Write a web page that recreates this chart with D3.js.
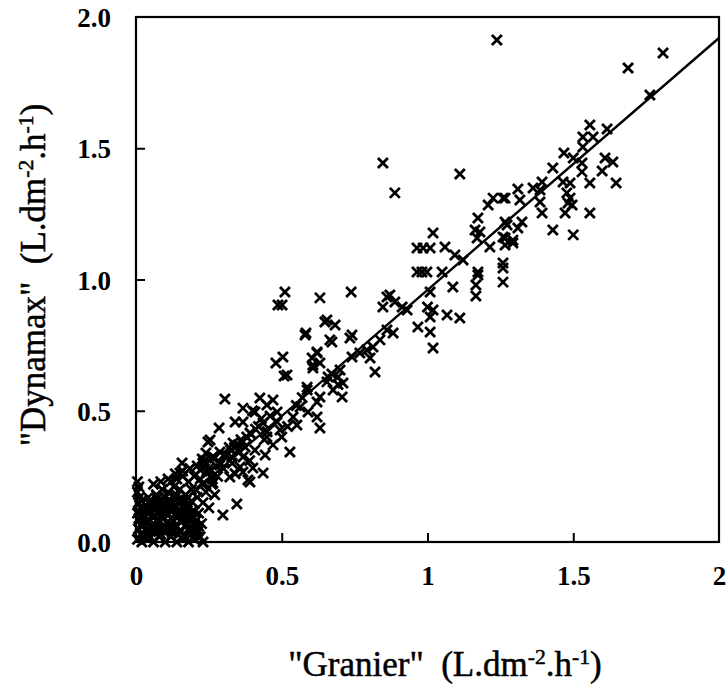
<!DOCTYPE html>
<html><head><meta charset="utf-8">
<script src="https://cdn.jsdelivr.net/npm/d3@7"></script>
<style>body{margin:0;background:#fff}svg{display:block}</style>
</head><body>
<svg id="c" width="728" height="686"></svg>
<script>
// Granier (x) vs Dynamax (y) sap flux density, L.dm-2.h-1
const granier = [
1.238,1.808,1.688,1.763,1.557,1.616,1.533,1.568,1.533,1.468,1.50,1.53,1.609,1.636,1.599,1.53,1.43,1.465,1.489,1.557,1.647,1.478,1.482,1.472,1.557,1.43,1.50,
1.393,1.386,1.362,1.31,1.266,1.317,1.386,1.489,1.496,1.393,1.324,1.273,1.31,1.259,1.293,
0.847,1.111,0.888,1.225,1.259,1.208,1.173,1.266,1.163,1.18,1.17,1.019,1.266,1.266,1.293,1.214,0.964,0.985,1.009,1.06,1.094,1.122,
0.964,0.981,0.998,1.05,1.173,1.259,1.259,1.259,1.173,1.166,1.166,1.087,1.009,0.871,
0.511,0.631,0.738,0.501,0.861,0.888,0.847,0.913,0.93,1.0,1.019,1.009,1.067,1.111,0.967,1.009,1.019,
0.683,0.741,0.734,0.655,0.58,0.665,0.861,0.882,0.837,0.813,0.792,0.768,0.741,0.803,0.621,0.604,0.607,0.631,0.70,0.693,0.82,0.518,0.504,0.655,0.587,0.71,
0.487,0.648,0.583,0.48,0.508,0.305,0.285,0.247,0.631,0.528,0.346,0.707,0.672,0.693,
0.672,0.621,0.607,0.659,0.676,0.631,0.587,0.621,0.425,0.47,0.449,0.367,0.408,0.484,0.563,0.59,0.539,0.621,0.552,
0.367,0.34,0.436,0.484,0.494,0.391,0.449,0.254,0.333,0.374,0.408,0.288,0.264,0.329,0.367,0.443,0.23,0.288,0.357,0.401,0.436,0.367,0.391,0.322,0.244,0.264,
0.158,0.151,0.22,0.298,0.384,0.227,0.24,0.263,0.233,0.243,
0.005,0.01,0.005,0.012,0.008,0.015,0.005,0.01,0.02,0.008,0.015,0.005,0.02,0.03,
0.04,0.05,0.06,0.07,0.08,0.09,0.1,0.11,0.12,0.13,0.14,0.15,0.16,0.17,0.18,0.19,0.2,0.21,0.22,0.23,
0.035,0.045,0.055,0.065,0.075,0.085,0.095,0.105,0.115,0.125,0.135,0.145,0.155,0.165,0.175,0.185,0.195,0.205,0.215,0.225,
0.04,0.06,0.08,0.1,0.12,0.14,0.16,0.18,0.2,0.03,0.05,0.07,0.09,0.11,0.13,0.15,0.17,0.19,0.21,0.23,0.25,0.24,0.26,0.22,0.2,0.18,0.16,0.14,0.12,0.27,0.28,0.3,0.25,0.23,0.27,0.31,0.33,0.35,0.38,
0.025,0.045,0.065,0.085,0.105,0.125,0.145,0.165,0.185,0.205,0.03,0.058,0.087,0.113,0.142,0.168,0.193,0.052,0.078,0.098,0.132,0.158,0.178,0.022,0.062,0.095,0.122,0.152,0.188,0.212,0.042,0.072,0.102,0.138,0.172,
0.32,0.36,0.41,0.44,0.29,0.34,0.39,0.45,0.47,0.52,0.55,0.43,0.4,0.5,0.57,
0.015,0.035,0.055,0.075,0.095,0.115,0.135,0.155,0.175,0.195,0.215,0.012,0.04,0.068,0.092,0.118,0.148,0.176,0.2,0.018,0.048,0.082,0.108,0.128,0.162,0.19,
0.06,0.085,0.11,0.135,0.16,0.185,0.21,0.235,0.255,0.275,0.3,0.325,0.35,0.205,0.228,0.262,0.285,0.31,0.338,0.365,0.395,0.42,0.46
];
const dynamax = [
1.912,1.863,1.806,1.703,1.589,1.573,1.543,1.543,1.505,1.482,1.463,1.444,1.463,1.448,1.413,1.41,1.425,1.371,1.368,1.368,1.368,1.33,1.291,1.253,1.253,1.189,1.17,
1.371,1.341,1.349,1.345,1.31,1.303,1.295,1.31,1.284,1.253,1.219,1.208,1.196,1.162,1.15,
1.444,1.402,1.33,1.31,1.31,1.284,1.234,1.219,1.189,1.181,1.158,1.177,1.158,1.131,1.139,1.124,1.12,1.12,1.12,1.124,1.093,1.074,
1.029,1.029,1.029,1.029,1.029,1.063,1.044,0.99,1.017,0.979,0.937,0.971,0.952,0.941,
0.952,0.93,0.952,0.903,0.933,0.914,0.895,0.895,0.884,0.895,0.884,0.857,0.865,0.853,0.819,0.8,0.739,
0.827,0.789,0.777,0.846,0.789,0.77,0.808,0.796,0.77,0.743,0.731,0.72,0.705,0.701,0.72,0.701,0.674,0.682,0.655,0.629,0.648,0.636,0.705,0.61,0.59,0.606,
0.903,0.838,0.796,0.682,0.632,0.545,0.434,0.381,0.434,0.343,0.145,0.552,0.64,0.6,
0.762,0.724,0.663,0.629,0.579,0.552,0.579,0.533,0.549,0.541,0.522,0.51,0.495,0.495,0.514,0.495,0.476,0.476,0.446,
0.457,0.457,0.453,0.457,0.427,0.415,0.4,0.389,0.377,0.362,0.35,0.343,0.324,0.324,0.324,0.331,0.301,0.293,0.286,0.282,0.263,0.267,0.229,0.248,0.263,0.225,
0.301,0.263,0.274,0.103,0.236,0.316,0.339,0.324,0.225,0.27,
0.23,0.21,0.19,0.17,0.15,0.13,0.11,0.09,0.07,0.05,0.03,0.01,0.0,0.02,
0.01,0.04,0.0,0.06,0.02,0.09,0.0,0.05,0.02,0.08,0.0,0.04,0.01,0.06,0.0,0.03,0.01,0.05,0.02,0.0,
0.08,0.11,0.13,0.1,0.14,0.12,0.15,0.11,0.16,0.13,0.17,0.12,0.15,0.11,0.14,0.09,0.12,0.08,0.11,0.07,
0.05,0.07,0.08,0.06,0.09,0.06,0.09,0.05,0.07,0.12,0.16,0.18,0.2,0.19,0.21,0.2,0.18,0.2,0.17,0.15,0.13,0.19,0.22,0.24,0.25,0.23,0.25,0.24,0.23,0.18,0.25,0.28,0.28,0.3,0.32,0.33,0.3,0.35,0.4,
0.03,0.025,0.035,0.03,0.04,0.035,0.03,0.025,0.04,0.03,0.1,0.095,0.1,0.105,0.1,0.095,0.1,0.14,0.135,0.13,0.14,0.135,0.13,0.06,0.045,0.04,0.05,0.045,0.055,0.04,0.17,0.165,0.17,0.18,0.16,
0.36,0.39,0.43,0.39,0.3,0.26,0.31,0.42,0.37,0.44,0.52,0.47,0.5,0.4,0.55,
0.065,0.07,0.06,0.075,0.065,0.07,0.06,0.075,0.065,0.07,0.06,0.115,0.12,0.125,0.115,0.12,0.11,0.12,0.115,0.155,0.15,0.16,0.155,0.15,0.16,0.155,
0.22,0.23,0.24,0.26,0.27,0.28,0.29,0.31,0.27,0.29,0.33,0.35,0.37,0.2,0.22,0.24,0.3,0.33,0.36,0.38,0.41,0.44,0.48
];
const xTicks = [0, 0.5, 1, 1.5, 2];
const xTickLabels = ["0", "0.5", "1", "1.5", "2"];
const yTicks = [0, 0.5, 1.0, 1.5, 2.0];
const yTickLabels = ["0.0", "0.5", "1.0", "1.5", "2.0"];
const fitSlope = 0.96, fitIntercept = 0.0;

const svg = d3.select("#c");
const L = 136, R = 719, T = 17, B = 542;
const x = d3.scaleLinear().domain([0, 2]).range([L, R]);
const y = d3.scaleLinear().domain([0, 2]).range([B, T]);
const font = "'Liberation Serif','Times New Roman',serif";

// points
const pts = granier.map((g, i) => [g, dynamax[i]]);
const s = 5;
const g = svg.append("g").attr("stroke", "#000").attr("stroke-width", 2.8).attr("fill", "none");
g.selectAll("path").data(pts).join("path")
  .attr("d", d => {
    const cx = x(d[0]), cy = y(d[1]);
    return `M${cx - s},${cy - s}L${cx + s},${cy + s}M${cx - s},${cy + s}L${cx + s},${cy - s}`;
  });

// fit line
svg.append("line")
  .attr("x1", x(0)).attr("y1", y(fitIntercept))
  .attr("x2", x(2)).attr("y2", y(fitIntercept + fitSlope * 2))
  .attr("stroke", "#000").attr("stroke-width", 2.4);

// frame
svg.append("rect").attr("x", L).attr("y", T).attr("width", R - L).attr("height", B - T)
  .attr("fill", "none").attr("stroke", "#000").attr("stroke-width", 2.2);

// axes with inward ticks
const xAxis = d3.axisBottom(x).tickValues(xTicks).tickSize(-9).tickPadding(24)
  .tickFormat((d, i) => xTickLabels[i]);
const ga = svg.append("g").attr("transform", `translate(0,${B})`).call(xAxis);
const yAxis = d3.axisLeft(y).tickValues(yTicks).tickSize(-9).tickPadding(25)
  .tickFormat((d, i) => yTickLabels[i]);
const gy = svg.append("g").attr("transform", `translate(${L},0)`).call(yAxis);
[ga, gy].forEach(a => {
  a.select(".domain").remove();
  a.selectAll(".tick line").attr("stroke", "#000").attr("stroke-width", 2);
  a.selectAll(".tick text").attr("font-family", font).attr("font-weight", "bold")
    .attr("font-size", 27).attr("fill", "#000");
});
ga.selectAll(".tick text").attr("dy", "0.71em");
gy.selectAll(".tick text").attr("dy", "0.36em");
ga.selectAll(".tick").filter(d => d === 0 || d === 2).select("line").remove();
gy.selectAll(".tick").filter(d => d === 0 || d === 2).select("line").remove();

function title(sel, name) {
  sel.append("tspan").text(`"${name}"\u00a0\u00a0(L.dm`);
  sel.append("tspan").attr("font-size", "0.62em").attr("dy", "-0.55em").text("-2");
  sel.append("tspan").attr("dy", "0.34em").text(".h");
  sel.append("tspan").attr("font-size", "0.62em").attr("dy", "-0.55em").text("-1");
  sel.append("tspan").attr("dy", "0.34em").text(")");
}
const xt = svg.append("text").attr("x", 445).attr("y", 676).attr("text-anchor", "middle")
  .attr("font-family", font).attr("font-size", 35).attr("fill", "#000")
  .attr("stroke", "#000").attr("stroke-width", 0.5);
title(xt, "Granier");
const yt = svg.append("text").attr("transform", "translate(45,275) rotate(-90)").attr("text-anchor", "middle")
  .attr("font-family", font).attr("font-size", 35).attr("fill", "#000")
  .attr("stroke", "#000").attr("stroke-width", 0.5);
title(yt, "Dynamax");
</script>
</body></html>
